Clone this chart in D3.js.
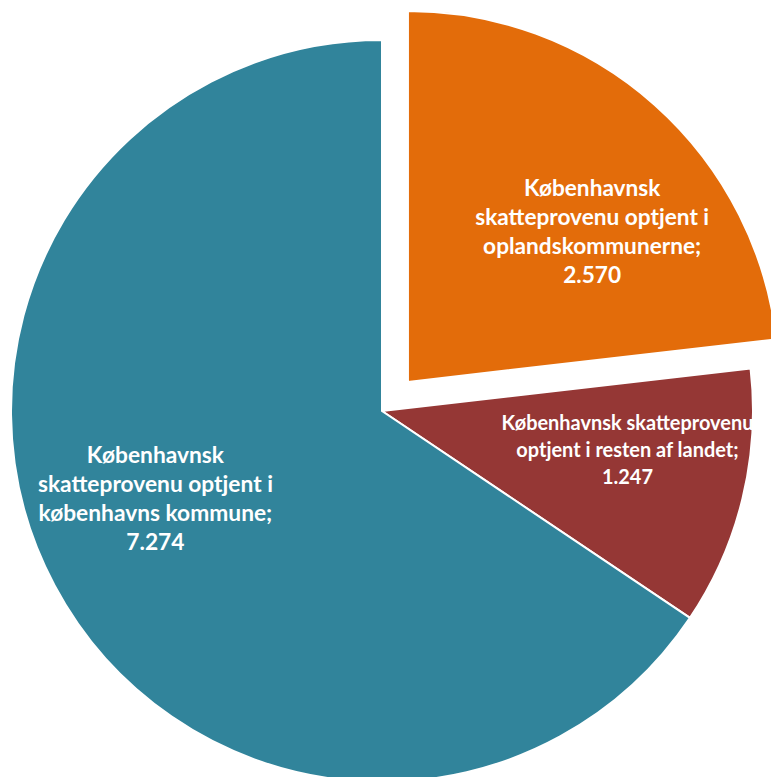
<!DOCTYPE html>
<html>
<head>
<meta charset="utf-8">
<script src="https://cdn.jsdelivr.net/npm/d3@7"></script>
<style>
  html, body { margin: 0; padding: 0; background: #fff; overflow: hidden; }
</style>
</head>
<body>
<svg id="chart" width="771" height="777"></svg>
<script>
// slices, clockwise from 12 o'clock
const names = [
  "Københavnsk skatteprovenu optjent i oplandskommunerne",
  "Københavnsk skatteprovenu optjent i resten af landet",
  "Københavnsk skatteprovenu optjent i københavns kommune"
];
const values = [2570, 1247, 7274];
const valueLabels = ["2.570", "1.247", "7.274"];
const labelLines = [
  ["Københavnsk", "skatteprovenu optjent i", "oplandskommunerne;"],
  ["Københavnsk skatteprovenu", "optjent i resten af landet;"],
  ["Københavnsk", "skatteprovenu optjent i", "københavns kommune;"]
];
const colors = ["#e36c0a", "#953735", "#31849b"];
const exploded = [true, false, false];

const width = 771;
const height = 777;
const cx = 382;
const cy = 411;
const radius = 371;
const explodeDist = 39;

const svg = d3.select("#chart");
const g = svg.append("g").attr("transform", `translate(${cx},${cy})`);

const pie = d3.pie().sort(null).value(d => d.value);
const arcs = pie(values.map((v, i) => ({ value: v, i })));

const arc = d3.arc().innerRadius(0).outerRadius(radius);

function offset(d, dist) {
  const a = (d.startAngle + d.endAngle) / 2;
  return [Math.sin(a) * dist, -Math.cos(a) * dist];
}

const slice = g.selectAll("g.slice")
  .data(arcs)
  .join("g")
  .attr("class", "slice")
  .attr("transform", d => {
    const [dx, dy] = exploded[d.data.i] ? offset(d, explodeDist) : [0, 0];
    return `translate(${dx},${dy})`;
  });

slice.append("path")
  .attr("d", arc)
  .attr("fill", d => colors[d.data.i])
  .attr("stroke", "#fff")
  .attr("stroke-width", 2)
  .attr("stroke-linejoin", "miter");

// label placement: angle nudge (rad) and radius fraction, tuned by eye
const labelAngleShift = [0.16, -0.08, 0.12];
const labelRadius = [0.64, 0.67, 0.655];
const lineH = [29, 27, 29];
// widest line of each label should span about this many px
const labelWidth = [234, 252, 235];

slice.append("text")
  .attr("fill", "#fff")
  .attr("font-family", "Lato, 'Open Sans', sans-serif")
  .attr("font-weight", 700)
  .attr("text-anchor", "middle")
  .attr("font-size", "16px")
  .each(function (d) {
    const i = d.data.i;
    const a = (d.startAngle + d.endAngle) / 2 + labelAngleShift[i];
    const r = radius * labelRadius[i];
    const x = Math.sin(a) * r;
    const y = -Math.cos(a) * r;
    const lines = [...labelLines[i], valueLabels[i]];
    const t = d3.select(this);
    const top = y - ((lines.length - 1) * lineH[i]) / 2;
    const spans = lines.map((line, k) =>
      t.append("tspan")
        .attr("x", x)
        .attr("y", top + k * lineH[i])
        .attr("dy", "0.35em")
        .text(line)
    );
    const widest = d3.max(spans, s => s.node().getComputedTextLength());
    t.attr("font-size", (16 * labelWidth[i] / widest).toFixed(2) + "px");
  });
</script>
</body>
</html>
